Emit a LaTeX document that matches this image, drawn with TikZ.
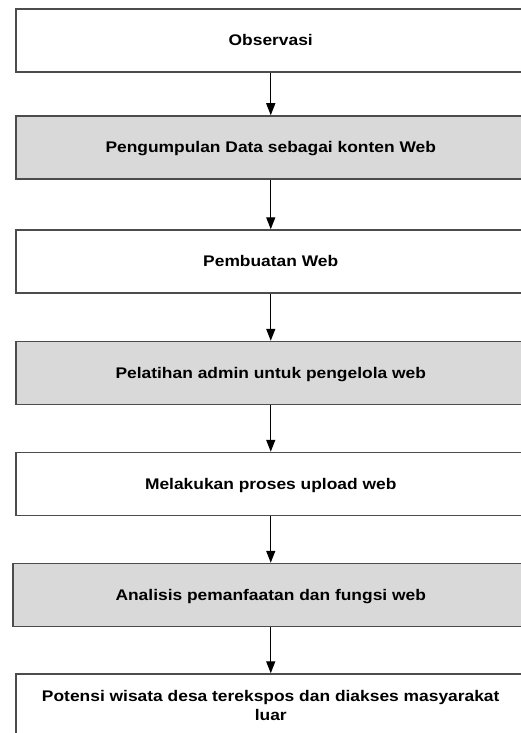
\documentclass[tikz,border=0pt]{standalone}
\usepackage{fontspec}
\setmainfont[FakeStretch=1.13]{Liberation Sans}
\usepackage{tikz}
\usetikzlibrary{arrows.meta}

\tikzset{
  tahap/.style = {draw = black!70, line width = 1.5pt, fill = white, anchor = west,
    minimum width = 510pt, minimum height = 63pt, align = center,
    font = \fontsize{15.4}{18.4}\selectfont\bfseries,
    text height = 11pt, text depth = 1pt},
  abu/.style = {tahap, fill = black!15},
  panah/.style = {-{Triangle[length=12pt, width=9pt]}, line width = 1.4pt, black}
}

\begin{document}
\begin{tikzpicture} [x = 1pt, y = -1pt]
\useasboundingbox (0,0) rectangle (520,733);
\node[tahap] (obs) at (15,40.5) {Observasi};
\node[abu] (data) at (15,147.5) {Pengumpulan Data sebagai konten Web};
\node[tahap] (buat) at (15,261.5) {Pembuatan Web};
\node[abu] (latih) at (15,373) {Pelatihan admin untuk pengelola web};
\node[tahap] (upload) at (15,484) {Melakukan proses upload web};
\node[abu, minimum width = 516pt] (analisis) at (12,595) {Analisis pemanfaatan dan fungsi web};
\node[tahap, text height = {}, text depth = {}] (potensi) at (15,705.5) {Potensi wisata desa terekspos dan diakses masyarakat\\ luar};
\draw [panah] (obs) -- (data);
\draw [panah] (data) -- (buat);
\draw [panah] (buat) -- (latih);
\draw [panah] (latih) -- (upload);
\draw [panah] (upload) -- (analisis);
\draw [panah] (analisis) -- (potensi);
\end{tikzpicture}
\end{document}
